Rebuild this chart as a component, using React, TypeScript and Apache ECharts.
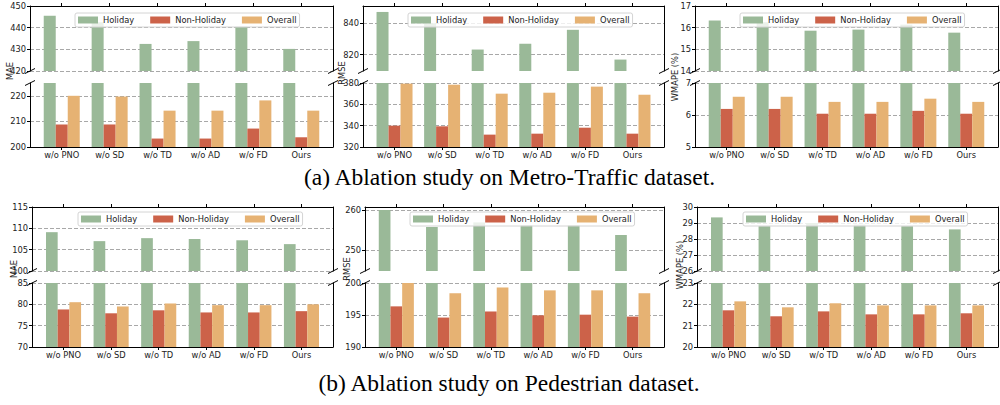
import React, { useEffect, useRef } from 'react';
import * as echarts from 'echarts';

// ---------- data ----------
const categories = ['w/o PNO', 'w/o SD', 'w/o TD', 'w/o AD', 'w/o FD', 'Ours'];
const seriesNames = ['Holiday', 'Non-Holiday', 'Overall'];

const metroMAEHoliday = [445.5, 442.5, 432.5, 433.8, 440.5, 430.2];
const metroMAENon = [208.8, 208.8, 203.3, 203.3, 207.2, 203.8];
const metroMAEOverall = [220.0, 219.7, 214.2, 214.2, 218.2, 214.2];

const metroRMSEHoliday = [847.2, 840.0, 823.2, 826.9, 835.8, 816.8];
const metroRMSENon = [340.0, 339.4, 331.6, 332.5, 338.1, 332.5];
const metroRMSEOverall = [379.4, 378.4, 370.0, 370.9, 376.6, 369.0];

const metroWMAPEHoliday = [16.33, 16.25, 15.86, 15.91, 16.14, 15.77];
const metroWMAPENon = [6.19, 6.19, 6.04, 6.04, 6.13, 6.04];
const metroWMAPEOverall = [6.57, 6.57, 6.41, 6.41, 6.51, 6.41];

const pedMAEHoliday = [109.1, 107.0, 107.7, 107.5, 107.2, 106.3];
const pedMAENon = [78.8, 77.9, 78.6, 78.1, 78.1, 78.4];
const pedMAEOverall = [80.5, 79.5, 80.2, 79.8, 79.8, 80.0];

const pedRMSEHoliday = [260.0, 255.75, 256.9, 256.25, 256.25, 253.75];
const pedRMSENon = [196.35, 194.6, 195.55, 194.95, 195.05, 194.75];
const pedRMSEOverall = [200.0, 198.4, 199.3, 198.85, 198.85, 198.4];

const pedWMAPEHoliday = [29.35, 28.8, 29.0, 28.9, 28.8, 28.6];
const pedWMAPENon = [21.72, 21.44, 21.67, 21.53, 21.53, 21.58];
const pedWMAPEOverall = [22.14, 21.86, 22.05, 21.95, 21.95, 21.95];

const metricNames = ['MAE', 'RMSE', 'WMAPE (%)', 'MAE', 'RMSE', 'WMAPE (%)'];
const panelData = [
  [metroMAEHoliday, metroMAENon, metroMAEOverall],
  [metroRMSEHoliday, metroRMSENon, metroRMSEOverall],
  [metroWMAPEHoliday, metroWMAPENon, metroWMAPEOverall],
  [pedMAEHoliday, pedMAENon, pedMAEOverall],
  [pedRMSEHoliday, pedRMSENon, pedRMSEOverall],
  [pedWMAPEHoliday, pedWMAPENon, pedWMAPEOverall],
];

const topRange = [[420, 450], [809.5, 851], [14, 17], [100, 115], [244.75, 260.75], [26, 30]];
const topTicks = [[420, 430, 440, 450], [820, 840], [14, 15, 16, 17], [100, 105, 110, 115], [250, 260], [26, 27, 28, 29, 30]];
const bottomRange = [[200, 225], [320, 380], [5, 7], [70, 85], [190, 200], [20, 23]];
const bottomTicks = [[200, 210, 220], [320, 340, 360, 380], [5, 6, 7], [70, 75, 80, 85], [190, 195, 200], [20, 21, 22, 23]];

const captions = ['(a) Ablation study on Metro-Traffic dataset.', '(b) Ablation study on Pedestrian dataset.'];

// ---------- layout / style ----------
const colors = ['#9AB998', '#CC6249', '#E6B273'];
const rowLayout = [
  { topY: 6, topH: 65, botY: 83, botH: 64 },
  { topY: 207, topH: 64, botY: 283, botH: 64 },
];
const panelLeft = [30, 363, 695, 32, 365, 697];
const panelWidth = [303, 301, 303, 301, 299, 301];
const legendLeft = [75, 408, 740, 78, 410, 743];
const legendTop = [13, 13, 13, 212, 212, 212];
const yLabelPos = [[10, 71], [342, 73], [675, 77], [14, 269], [347, 269], [680, 265]];
const captionPos = [[509.5, 176.5], [509, 383]];
const FONT = 'DejaVu Sans';
const FS = 8.3;
const xIdx = [0, 1, 2, 3, 4, 5];

function buildOption() {
  const grid: any[] = [];
  const xAxis: any[] = [];
  const yAxis: any[] = [];
  const series: any[] = [];
  const legend: any[] = [];
  const graphic: any[] = [];

  for (let p = 0; p < 6; p++) {
    const row = rowLayout[p < 3 ? 0 : 1];
    const left = panelLeft[p];
    const width = panelWidth[p];
    grid.push({ left, width, top: row.topY, height: row.topH });
    grid.push({ left, width, top: row.botY, height: row.botH });

    for (let s = 0; s < 2; s++) {
      const isTop = s === 0;
      xAxis.push({
        type: 'value',
        gridIndex: 2 * p + s,
        position: isTop ? 'top' : 'bottom',
        min: -0.6625,
        max: 5.6625,
        axisLine: { show: true, onZero: false, lineStyle: { color: '#000', width: 1 } },
        axisTick: { show: true, customValues: xIdx, length: 3, inside: false, lineStyle: { color: '#000' } },
        axisLabel: {
          show: !isTop,
          customValues: xIdx,
          formatter: (v: number) => categories[Math.round(v)],
          fontFamily: FONT,
          fontSize: FS,
          color: '#222',
          margin: 4,
        },
        splitLine: { show: false },
      });
      const rng = isTop ? topRange[p] : bottomRange[p];
      const ticks = isTop ? topTicks[p] : bottomTicks[p];
      yAxis.push({
        type: 'value',
        gridIndex: 2 * p + s,
        position: 'left',
        min: rng[0],
        max: rng[1],
        axisLine: { show: true, onZero: false, lineStyle: { color: '#000', width: 1 } },
        axisTick: { show: true, customValues: ticks, length: 3, lineStyle: { color: '#000' } },
        axisLabel: { customValues: ticks, fontFamily: FONT, fontSize: FS, color: '#222', margin: 4 },
        splitLine: { show: true, lineStyle: { color: '#a8a8a8', type: [4, 2], width: 1 } },
      });
      yAxis.push({
        type: 'value',
        gridIndex: 2 * p + s,
        position: 'right',
        min: 0,
        max: 1,
        axisLine: { show: true, onZero: false, lineStyle: { color: '#000', width: 1 } },
        axisTick: { show: false },
        axisLabel: { show: false },
        splitLine: { show: false },
      });
      for (let k = 0; k < 3; k++) {
        series.push({
          type: 'bar',
          name: seriesNames[k],
          xAxisIndex: 2 * p + s,
          yAxisIndex: 4 * p + 2 * s,
          data: panelData[p][k].map((v, i) => [i, v]),
          barWidth: p < 3 ? 12 : 11.7,
          barGap: '0%',
          clip: true,
          itemStyle: { color: colors[k] },
          emphasis: { disabled: true },
        });
      }
    }

    legend.push({
      data: seriesNames,
      left: legendLeft[p],
      top: legendTop[p],
      orient: 'horizontal',
      icon: 'rect',
      itemWidth: 20,
      itemHeight: 7,
      itemGap: 16,
      padding: [3, 3],
      selectedMode: false,
      borderColor: '#d4d4d4',
      borderWidth: 1,
      borderRadius: 2,
      backgroundColor: 'rgba(255,255,255,0.8)',
      textStyle: { fontFamily: FONT, fontSize: FS, color: '#222' },
    });

    // y-axis label
    graphic.push({
      type: 'text',
      x: yLabelPos[p][0],
      y: yLabelPos[p][1],
      rotation: Math.PI / 2,
      style: {
        text: metricNames[p],
        fontFamily: FONT,
        fontSize: FS,
        fill: '#222',
        align: 'center',
        verticalAlign: 'middle',
      },
    });

    // broken-axis marks
    const yBreaks = [row.topY + row.topH, row.botY];
    const xs = [left, left + width];
    for (const bx of xs) {
      for (const by of yBreaks) {
        graphic.push({
          type: 'line',
          shape: { x1: bx - 5, y1: by + 2.5, x2: bx + 5, y2: by - 2.5 },
          style: { stroke: '#000', lineWidth: 1 },
          z: 10,
        });
      }
    }
  }

  for (let c = 0; c < 2; c++) {
    graphic.push({
      type: 'text',
      x: captionPos[c][0],
      y: captionPos[c][1],
      style: {
        text: captions[c],
        fontFamily: 'Liberation Serif',
        fontSize: 23.5,
        fill: '#000',
        align: 'center',
        verticalAlign: 'middle',
      },
    });
  }

  return {
    animation: false,
    backgroundColor: '#fff',
    grid,
    xAxis,
    yAxis,
    series,
    legend,
    graphic,
  };
}

export default function App() {
  const ref = useRef<HTMLDivElement>(null);
  useEffect(() => {
    if (!ref.current) return;
    const chart = echarts.init(ref.current, undefined, { renderer: 'svg' });
    chart.setOption(buildOption() as any);
    return () => chart.dispose();
  }, []);
  return (
    <div
      ref={ref}
      style={{ position: 'absolute', left: 0, top: 0, width: 1000, height: 405, background: '#fff' }}
    />
  );
}
